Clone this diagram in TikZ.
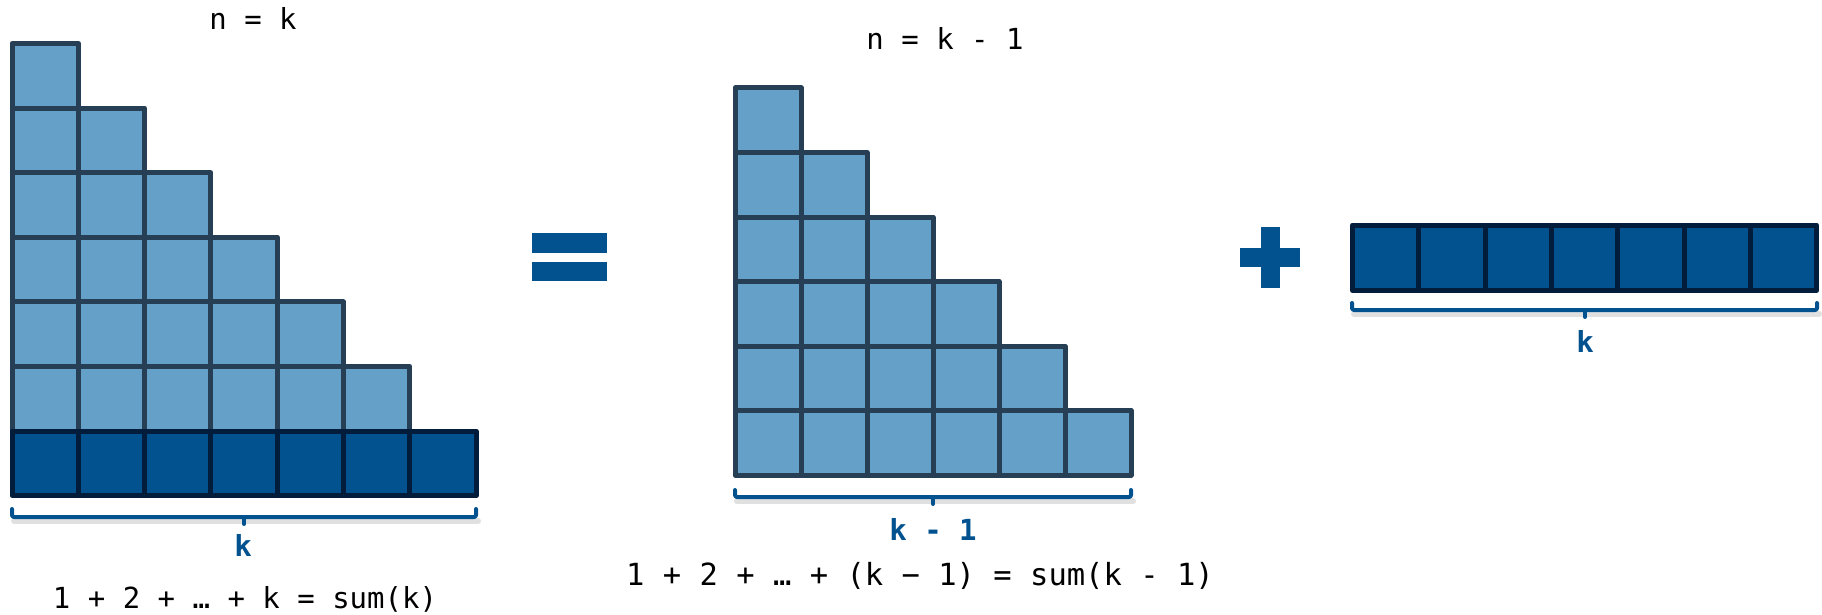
\documentclass[tikz,border=0pt]{standalone}
\usepackage{fontspec}
\newfontfamily\monofont{DejaVu Sans Mono}
\definecolor{lightfill}{RGB}{101,160,200}
\definecolor{lightline}{RGB}{38,63,85}
\definecolor{darkfill}{RGB}{2,82,143}
\definecolor{darkline}{RGB}{2,28,59}
\definecolor{braceblue}{RGB}{2,82,143}
\begin{document}
\begin{tikzpicture}[x=1pt,y=-1pt,
  lightcell/.style={fill=lightfill,draw=lightline,line width=5pt,line join=round},
  darkcell/.style={fill=darkfill,draw=darkline,line width=5pt,line join=round},
  brace/.style={draw=braceblue,line width=4pt,line join=round,line cap=round,rounded corners=2pt},
  braceshadow/.style={draw=black,opacity=0.12,line width=6pt,line cap=round},
  sym/.style={fill=braceblue},
  eqtext/.style={font=\monofont\fontsize{29}{32}\selectfont,text=black,inner sep=0pt},
  lbl/.style={font=\monofont\bfseries\fontsize{29}{32}\selectfont,text=braceblue,inner sep=0pt}]
\useasboundingbox (0,0) rectangle (1822,615);

% left triangle (n = k)
\foreach \r in {0,...,5}{
  \foreach \c in {0,...,\r}{
    \draw[lightcell] ({12+\c*66.3},{43.5+\r*64.6}) rectangle ++(66.3,64.6);
  }
}
\foreach \c in {0,...,6}{
  \draw[darkcell] ({12+\c*66.3},{43.5+6*64.6}) rectangle ++(66.3,64.6);
}

% equals sign
\fill[sym] (532,233) rectangle (607,253);
\fill[sym] (532,262) rectangle (607,281);

% middle triangle (n = k - 1)
\foreach \r in {0,...,5}{
  \foreach \c in {0,...,\r}{
    \draw[lightcell] ({735+\c*66},{88+\r*64.5}) rectangle ++(66,64.5);
  }
}

% plus sign
\fill[sym] (1261,227) rectangle (1280,288);
\fill[sym] (1240,248) rectangle (1300,267);

% right bar
\foreach \c in {0,...,6}{
  \draw[darkcell] ({1352.5+\c*66.3},225) rectangle ++(66.3,65.5);
}

% braces
\draw[braceshadow] (14,521) -- (478,521);
\draw[brace] (12,509) -- (12,517) -- (476,517) -- (476,509);
\draw[brace] (244,517) -- (244,524);

\draw[braceshadow] (737,501) -- (1133,501);
\draw[brace] (735,490) -- (735,497) -- (1131,497) -- (1131,490);
\draw[brace] (933,497) -- (933,504);

\draw[braceshadow] (1354,314) -- (1819,314);
\draw[brace] (1352,303) -- (1352,310) -- (1817,310) -- (1817,303);
\draw[brace] (1585,310) -- (1585,317);

% texts
\node[eqtext,anchor=base] (nk) at (253,30) {n = k};
\node[eqtext,anchor=base] (nk1) at (945,50) {n = k - 1};
\node[lbl,anchor=base] (kl) at (243,556) {k};
\node[lbl,anchor=base] (k1l) at (933,540) {k - 1};
\node[lbl,anchor=base] (kr) at (1585,352) {k};
\node[eqtext,anchor=base] (sumk) at (245,608) {1 + 2 + … + k = sum(k)};
\node[eqtext,anchor=base,font=\monofont\fontsize{30.5}{33}\selectfont] (sumk1) at (920,585) {1 + 2 + … + (k − 1) = sum(k - 1)};
\end{tikzpicture}
\end{document}
